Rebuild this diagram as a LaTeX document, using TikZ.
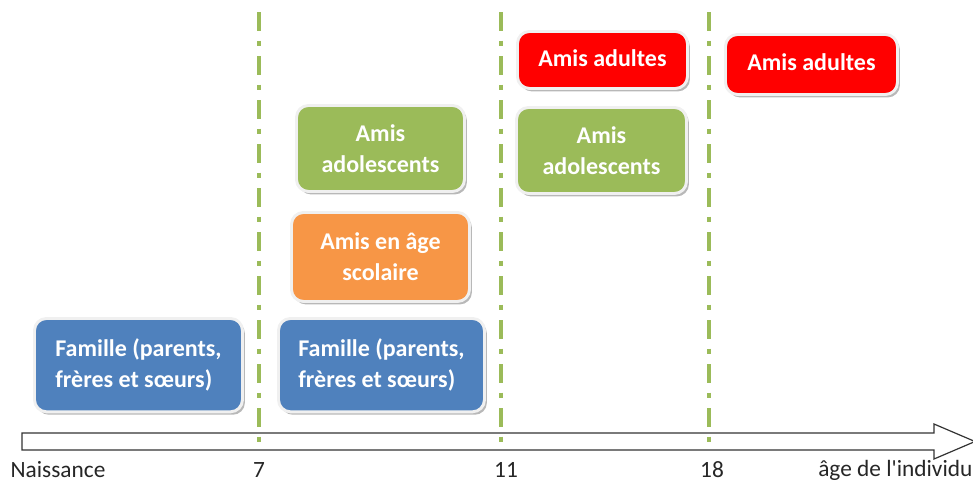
\documentclass[tikz,border=0pt]{standalone}
\usepackage{fontspec}
\setmainfont{Carlito}
\newfontfamily\plainfont{Carlito}
\usetikzlibrary{shadows}
\definecolor{fblue}{HTML}{4F81BD}
\definecolor{forange}{HTML}{F79646}
\definecolor{fgreen}{HTML}{9BBB59}
\definecolor{fred}{HTML}{FF0000}
\definecolor{vline}{HTML}{9BBB59}
\tikzset{
  card/.style={rounded corners=9pt, draw=gray!12, line width=2.2pt,
    drop shadow={shadow xshift=1.8pt, shadow yshift=-2.2pt, fill=gray!70, opacity=0.8},
    inner sep=0pt, anchor=north west},
  cardtext/.style={text=white, font=\fontsize{18}{23.5}\selectfont\bfseries, inner sep=0pt},
  agelabel/.style={font=\plainfont\fontsize{17.5}{20}\selectfont, text=black!85, inner sep=0pt},
  sep/.style={draw=vline, line width=3pt, dash pattern=on 14pt off 7.5pt on 4pt off 7.5pt}
}
\begin{document}
\begin{tikzpicture}[x=0.75pt,y=-0.75pt]
\useasboundingbox (0,0) rectangle (973,483);
% timeline arrow
\draw[draw=black!80, fill=white, line width=0.9pt]
  (22,433) -- (934,433) -- (934,424) -- (975,441.5) -- (934,459) -- (934,450) -- (22,450) -- cycle;
% separators
\coordinate (s7t) at (259,12); \coordinate (s7b) at (259,450);
\coordinate (s11t) at (501,12); \coordinate (s11b) at (501,450);
\coordinate (s18t) at (709,12); \coordinate (s18b) at (709,450);
\draw[sep] (s7t) -- (s7b);
\draw[sep] (s11t) -- (s11b);
\draw[sep] (s18t) -- (s18b);
% boxes
\node[card, fill=fblue, minimum width=156pt, minimum height=70pt] (fam1) at (33,317) {};
\node[cardtext, align=left] (fam1t) at (fam1.center) {Famille (parents,\\frères et sœurs)};
\node[card, fill=fblue, minimum width=154.5pt, minimum height=70pt] (fam2) at (277,317) {};
\node[cardtext, align=left] (fam2t) at (fam2.center) {Famille (parents,\\frères et sœurs)};
\node[card, fill=forange, minimum width=133.5pt, minimum height=66.75pt] (sco) at (290,211) {};
\node[cardtext, align=center] (scot) at (sco.center) {Amis en âge\\scolaire};
\node[card, fill=fgreen, minimum width=126pt, minimum height=64.5pt] (ado1) at (295,104) {};
\node[cardtext, align=center] (ado1t) at (ado1.center) {Amis\\adolescents};
\node[card, fill=fgreen, minimum width=127.5pt, minimum height=64.5pt] (ado2) at (515,106) {};
\node[cardtext, align=center] (ado2t) at (ado2.center) {Amis\\adolescents};
\node[card, fill=fred, minimum width=127.5pt, minimum height=42.75pt] (adu1) at (516,30) {};
\node[cardtext] (adu1t) at ([yshift=1.5pt]adu1.center) {Amis adultes};
\node[card, fill=fred, minimum width=129pt, minimum height=45pt] (adu2) at (724,33) {};
\node[cardtext] (adu2t) at ([yshift=1.5pt]adu2.center) {Amis adultes};
% age labels
\node[agelabel] (l0) at (58,470) {Naissance};
\node[agelabel] (l7) at (259,470) {7};
\node[agelabel] (l11) at (506,470) {11};
\node[agelabel] (l18) at (712,470) {18};
\node[agelabel, anchor=west] (lage) at (818,470) {âge de l'individu};
\end{tikzpicture}
\end{document}
